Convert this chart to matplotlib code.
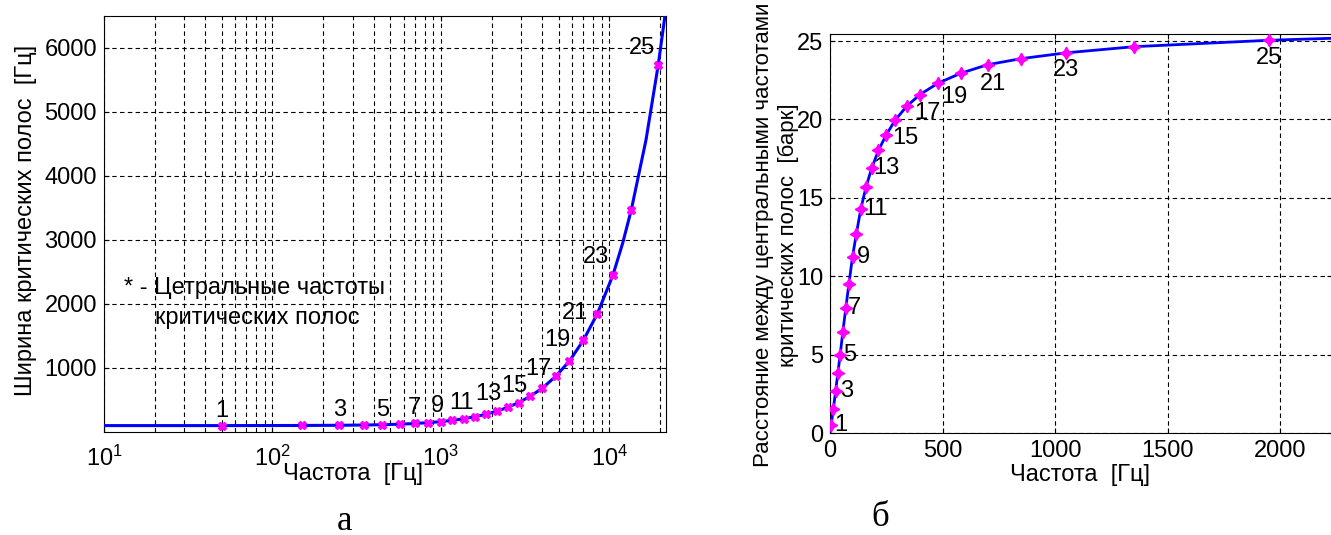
import matplotlib
matplotlib.use("Agg")
import matplotlib.pyplot as plt
from matplotlib.ticker import LogLocator, FixedLocator, NullFormatter

plt.rcParams["font.family"] = ["Liberation Sans", "DejaVu Sans"]
plt.rcParams["mathtext.fontset"] = "custom"
plt.rcParams["mathtext.rm"] = "Liberation Sans"

# centre frequencies of the critical bands, Hz (markers, panel a)
center_freq = [50, 150, 250, 350, 450, 570, 700, 840, 1000, 1170, 1370, 1600,
               1850, 2150, 2500, 2900, 3400, 4000, 4800, 5800, 7000, 8500,
               10500, 13500, 19500]
# critical bandwidth at those frequencies, Hz
bandwidth = [100, 102, 105, 109, 114, 122, 133, 146, 162, 182, 208, 239,
             277, 325, 386, 460, 559, 685, 868, 1110, 1430, 1850,
             2450, 3470, 5730]
# extra points (panel a)
curve_a_x = [10, 12000, 16500, 21700]
curve_a_y = [100, 2950, 4560, 6620]

# panel b: x as plotted, bark values
dist_x = [5, 15, 25, 35, 45, 57, 70, 84, 100, 117, 137, 160, 185, 215, 250,
          290, 340, 400, 480, 580, 700, 850, 1050, 1350, 1950]
dist_bark = [0.50, 1.55, 2.68, 3.83, 4.97, 6.45, 7.95, 9.50, 11.24, 12.70,
             14.29, 15.69, 16.88, 18.02, 19.02, 19.96, 20.83, 21.59, 22.31,
             22.94, 23.49, 23.88, 24.25, 24.64, 25.05]
curve_b_x = [0, 2240]
curve_b_y = [0.0, 25.18]

band_labels = [str(n) for n in range(1, 26)]

# label offsets in pixels (dx, dy) for odd bands
offs_a = [(0, 15), (0, 15), (0, 15), (0, 15), (-3, 16), (-2, 16), (2, 20),
          (6, 21), (8, 27), (2, 36), (-8, 27), (-17, 18), (-16, 17)]
offs_b = [(10, 0), (11, 0), (10, 0), (9, 0), (11, 0), (15, 0), (15, 0),
          (19, -3), (21, -7), (16, -14), (5, -19), (0, -17), (0, -18)]

W, H = 1331, 535
FS = 17
fig = plt.figure(figsize=(W / 100, H / 100), dpi=100)

grid_kw = dict(color="black", linestyle=(0, (4, 3)), linewidth=0.8)

# ---- panel a ----
ax1 = fig.add_axes([104 / W, 1 - 432 / H, 562 / W, 416 / H])
xa = sorted(curve_a_x + center_freq)
ya = [y for _, y in sorted(zip(curve_a_x + center_freq, curve_a_y + bandwidth))]
ax1.plot(xa, ya, color="#0000ff", lw=2.2, zorder=3)
ax1.plot(center_freq, bandwidth, linestyle="none", marker="X", ms=6,
         color="#ff00ff", mec="#ff00ff", zorder=4)
ax1.set_xscale("log")
ax1.set_xlim(10, 21700)
ax1.set_ylim(0, 6500)
ax1.xaxis.set_major_locator(LogLocator(base=10, numticks=10))
ax1.xaxis.set_minor_locator(LogLocator(base=10, subs=range(2, 10), numticks=20))
ax1.xaxis.set_minor_formatter(NullFormatter())
ax1.yaxis.set_major_locator(FixedLocator([1000, 2000, 3000, 4000, 5000, 6000]))
ax1.grid(True, which="both", axis="x", **grid_kw)
ax1.grid(True, which="major", axis="y", **grid_kw)
ax1.tick_params(which="both", direction="in", top=True, right=True,
                labelsize=FS)
ax1.tick_params(axis="x", pad=10)
ax1.tick_params(axis="y", pad=5)
ax1.tick_params(which="minor", length=2)
ax1.set_xlabel("Частота  [Гц]", fontsize=FS)
ax1.xaxis.set_label_coords((353 - 104) / 562, -(463 - 432) / 416)
ax1.set_ylabel("Ширина критических полос  [Гц]", fontsize=FS)
ax1.yaxis.set_label_coords((37 - 104) / 562, 1 - (220 - 16) / 416)
for i, (dx, dy) in zip(range(0, 25, 2), offs_a):
    ax1.annotate(band_labels[i], (center_freq[i], bandwidth[i]),
                 xytext=(dx, dy), textcoords="offset pixels",
                 ha="center", va="center", fontsize=FS)
ax1.text((124 - 104) / 562, 1 - (288 - 16) / 416, "* - Цетральные частоты",
         transform=ax1.transAxes, fontsize=FS, va="center", ha="left")
ax1.text((155 - 104) / 562, 1 - (318 - 16) / 416, "критических полос",
         transform=ax1.transAxes, fontsize=FS, va="center", ha="left")

# ---- panel b ----
ax2 = fig.add_axes([830 / W, 1 - 433 / H, 502 / W, 399 / H])
ax2.plot(curve_b_x[:1] + dist_x + curve_b_x[1:],
         curve_b_y[:1] + dist_bark + curve_b_y[1:],
         color="#0000ff", lw=2, zorder=3)
ax2.plot(dist_x, dist_bark, linestyle="none", marker=(4, 1, 0), ms=9,
         color="#ff00ff", mec="#ff00ff", zorder=4)
ax2.set_xlim(0, 2231)
ax2.set_ylim(0, 25.45)
ax2.xaxis.set_major_locator(FixedLocator([0, 500, 1000, 1500, 2000]))
ax2.yaxis.set_major_locator(FixedLocator([0, 5, 10, 15, 20, 25]))
ax2.grid(True, **grid_kw)
ax2.tick_params(direction="in", top=True, right=True, labelsize=FS, pad=5)
ax2.set_xlabel("Частота  [Гц]", fontsize=FS)
ax2.xaxis.set_label_coords((1080 - 830) / 502, -(464 - 433) / 399)
ax2.set_ylabel("Расстояние между центральными частотами\nкритических полос  [барк]",
               fontsize=16, linespacing=1.2)
ax2.yaxis.set_label_coords((799 - 830) / 502, 1 - (235 - 34) / 399)
for i, (dx, dy) in zip(range(0, 25, 2), offs_b):
    ax2.annotate(band_labels[i], (dist_x[i], dist_bark[i]),
                 xytext=(dx, dy), textcoords="offset pixels",
                 ha="center", va="center", fontsize=FS)

fig.text(344 / W, 1 - 521 / H, "а", family="Liberation Serif", fontsize=25,
         ha="center", va="center")
fig.text(880 / W, 1 - 518 / H, "б", family="Liberation Serif", fontsize=25,
         ha="center", va="center")

fig.savefig("out.png", dpi=100)
